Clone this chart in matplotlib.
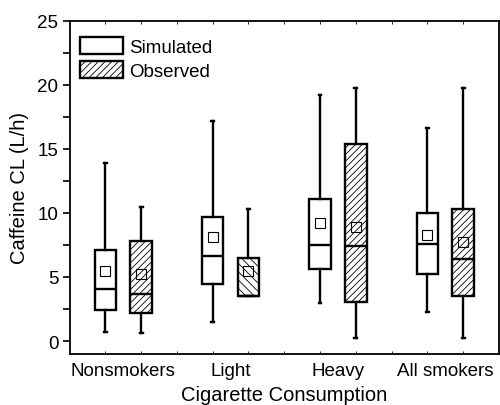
import matplotlib.pyplot as plt
from matplotlib.patches import Patch

plt.rcParams['font.family'] = ['Liberation Sans', 'DejaVu Sans']
plt.rcParams['hatch.linewidth'] = 0.6
plt.rcParams['hatch.color'] = '#555555'

groups = ['Nonsmokers', 'Light', 'Heavy', 'All smokers']
series = ['Simulated', 'Observed']

# order: nonsmokers, light, heavy, all smokers
sim_whislo = [0.67, 1.48, 2.93, 2.23]
sim_q1 = [2.44, 4.46, 5.65, 5.22]
sim_med = [4.05, 6.67, 7.52, 7.58]
sim_q3 = [7.11, 9.68, 11.06, 10.02]
sim_whishi = [13.9, 17.18, 19.2, 16.6]
sim_mean = [5.45, 8.1, 9.19, 8.28]

obs_whislo = [0.59, 3.5, 0.2, 0.2]
obs_q1 = [2.18, 3.5, 3.08, 3.5]
obs_med = [3.66, 3.5, 7.42, 6.41]
obs_q3 = [7.79, 6.46, 15.37, 10.3]
obs_whishi = [10.46, 10.3, 19.7, 19.7]
obs_mean = [5.26, 5.45, 8.93, 7.71]


def make_stats(lo, q1, med, q3, hi, mean):
    stats = []
    for i in range(len(lo)):
        stats.append(dict(whislo=lo[i], q1=q1[i], med=med[i], q3=q3[i],
                          whishi=hi[i], mean=mean[i], fliers=[]))
    return stats


fig = plt.figure(figsize=(5.0, 4.06), dpi=100)
ax = fig.add_axes([0.139, 0.126, 0.859, 0.821])

lw = 1.7
common = dict(widths=0.6, showmeans=True, patch_artist=True,
              boxprops=dict(linewidth=lw, edgecolor='black', facecolor='white'),
              medianprops=dict(linewidth=lw, color='black'),
              whiskerprops=dict(linewidth=lw, color='black'),
              capprops=dict(linewidth=lw, color='black'),
              meanprops=dict(marker='s', markerfacecolor='none', markeredgecolor='black',
                             markersize=6.5, markeredgewidth=0.8),
              capwidths=0.08)

sim_pos = [1, 4, 7, 10]
obs_pos = [2, 5, 8, 11]
ax.bxp(make_stats(sim_whislo, sim_q1, sim_med, sim_q3, sim_whishi, sim_mean),
       positions=sim_pos, **common)
bp = ax.bxp(make_stats(obs_whislo, obs_q1, obs_med, obs_q3, obs_whishi, obs_mean),
            positions=obs_pos, **common)
for i, box in enumerate(bp['boxes']):
    box.set_hatch('\\\\\\\\' if i == 1 else '/////')

ax.set_xlim(0, 12)
ax.set_ylim(-1, 25)
ax.set_xticks([1.5, 4.5, 7.5, 10.5])
ax.set_xticklabels(groups, fontsize=13.5)
ax.set_xticks(range(1, 12), minor=True)
ax.tick_params(axis='x', which='major', length=0, pad=6)
ax.tick_params(axis='x', which='minor', direction='in', length=2.5, width=0.6,
               top=True, bottom=True)
ax.set_yticks([0, 5, 10, 15, 20, 25])
ax.set_yticks([2.5, 7.5, 12.5, 17.5, 22.5], minor=True)
ax.tick_params(axis='y', which='both', direction='out', length=5, width=1.2,
               labelsize=13.5, pad=3)
for s in ax.spines.values():
    s.set_linewidth(1.3)

ax.set_xlabel('Cigarette Consumption', fontsize=14.5, labelpad=4)
ax.set_ylabel('Caffeine CL (L/h)', fontsize=14.5, labelpad=6)

handles = [Patch(facecolor='white', edgecolor='black', linewidth=lw),
           Patch(facecolor='white', edgecolor='black', linewidth=lw, hatch='/////')]
ax.legend(handles, series, loc='upper left', frameon=False, fontsize=13.5,
          handlelength=2.25, handleheight=1.05, handletextpad=0.35,
          labelspacing=0.25, borderaxespad=0.3, bbox_to_anchor=(-0.005, 0.99))

fig.savefig('out.png', dpi=100)
